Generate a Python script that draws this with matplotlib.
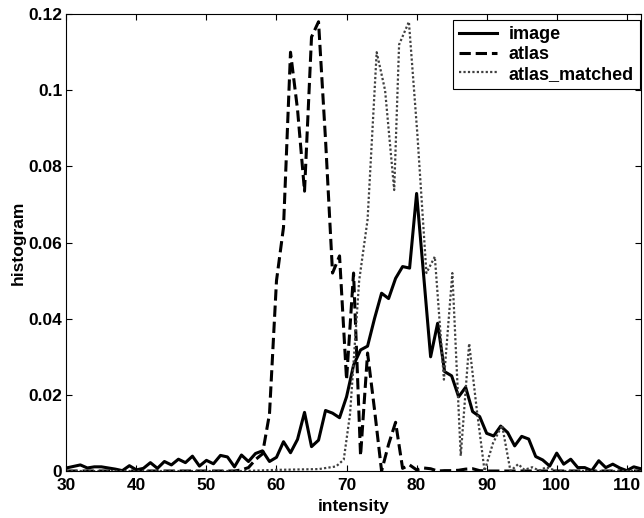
import numpy as np
import matplotlib
matplotlib.use("Agg")
import matplotlib.pyplot as plt

# intensity bins for image / atlas histograms
intensity = np.arange(30, 113)

image = [
    0.0008, 0.0012, 0.0016, 0.0008, 0.0011, 0.0011, 0.0008, 0.0005, 0.0001, 0.0014,  # 30-39
    0.0003, 0.0007, 0.0022, 0.0007, 0.0025, 0.0016, 0.0031, 0.0022, 0.0039, 0.0013,  # 40-49
    0.0028, 0.0019, 0.0041, 0.0037, 0.0011, 0.0042, 0.0025, 0.0046, 0.0053, 0.0025,  # 50-59
    0.0036, 0.0077, 0.0048, 0.0083, 0.0154, 0.0064, 0.0081, 0.0159, 0.0152, 0.0140,  # 60-69
    0.0195, 0.0278, 0.0318, 0.0328, 0.0401, 0.0467, 0.0453, 0.0506, 0.0537, 0.0533,  # 70-79
    0.0729, 0.0515, 0.0300, 0.0388, 0.0261, 0.0250, 0.0195, 0.0220, 0.0156, 0.0143,  # 80-89
    0.0099, 0.0092, 0.0118, 0.0101, 0.0066, 0.0091, 0.0084, 0.0038, 0.0029, 0.0013,  # 90-99
    0.0047, 0.0018, 0.0031, 0.0009, 0.0009, 0.0001, 0.0027, 0.0009, 0.0018, 0.0008,  # 100-109
    0.0001, 0.0011, 0.0006,                                                          # 110-112
]

atlas = [
    0, 0, 0, 0, 0, 0, 0, 0, 0, 0,                                                    # 30-39
    0, 0, 0, 0, 0, 0, 0, 0, 0, 0,                                                    # 40-49
    0, 0, 0, 0, 0, 0.0003, 0.0009, 0.0030, 0.0045, 0.0150,                           # 50-59
    0.0500, 0.0640, 0.1100, 0.0950, 0.0735, 0.1140, 0.1180, 0.0870, 0.0520, 0.0565,  # 60-69
    0.0240, 0.0520, 0.0040, 0.0310, 0.0160, 0.0000, 0.0070, 0.0128, 0.0007, 0.0016,  # 70-79
    0.0003, 0.0008, 0.0006, 0.0000, 0.0001, 0.0001, 0.0002, 0.0005, 0.0006, 0.0001,  # 80-89
    0, 0, 0, 0, 0, 0, 0, 0, 0, 0,                                                    # 90-99
    0, 0, 0, 0, 0, 0, 0, 0, 0, 0,                                                    # 100-109
    0, 0, 0,                                                                         # 110-112
]

# matched atlas histogram sits on a stretched grid
matched_x = [30, 55, 60, 66, 68.5, 69.6, 70.5, 71.8, 73.0, 74.3, 75.5, 76.8, 77.5,
             78.9, 80.1, 81.4, 82.6, 83.9, 85.1, 86.3, 87.5, 88.6, 89.7, 90.9,
             92.2, 93.4, 94.5, 95.4, 96.5, 97.5, 98.5, 100, 112]
matched_y = [0, 0, 0.0003, 0.0005, 0.0012, 0.0030, 0.0150, 0.0500, 0.0660, 0.1100,
             0.1000, 0.0738, 0.1120, 0.1180, 0.0887, 0.0520, 0.0563, 0.0240, 0.0520,
             0.0040, 0.0335, 0.0160, 0.0000, 0.0073, 0.0120, 0.0000, 0.0018, 0.0003,
             0.0010, 0.0001, 0.0010, 0, 0]

xticks = [30, 40, 50, 60, 70, 80, 90, 100, 110]
yticks = [0, 0.02, 0.04, 0.06, 0.08, 0.1, 0.12]
ytick_labels = ["0", "0.02", "0.04", "0.06", "0.08", "0.1", "0.12"]

plt.rcParams["font.family"] = ["Liberation Sans", "DejaVu Sans"]
plt.rcParams["font.weight"] = "bold"
plt.rcParams["font.size"] = 12.5

fig = plt.figure(figsize=(6.44, 5.18), dpi=100)
ax = fig.add_axes([0.103, 0.0907, 0.892, 0.882])

ax.plot(intensity, image, color="black", lw=2.2, ls="-", label="image")
ax.plot(intensity, atlas, color="black", lw=2.2, ls="--", label="atlas")
ax.plot(matched_x, matched_y, color="0.25", lw=1.6, ls=(0, (1, 1)), label="atlas_matched")

ax.set_xlim(30, 112)
ax.set_ylim(0, 0.12)
ax.set_xticks(xticks)
ax.set_yticks(yticks)
ax.set_yticklabels(ytick_labels)
ax.tick_params(direction="in", top=True, right=True, length=4, width=0.8)
ax.tick_params(axis="x", pad=5)
ax.tick_params(axis="y", pad=3)
for s in ax.spines.values():
    s.set_linewidth(0.8)

ax.set_xlabel("intensity", fontweight="bold", labelpad=4)
ax.set_ylabel("histogram", fontweight="bold", labelpad=2)

leg = ax.legend(loc="upper right", bbox_to_anchor=(0.999, 0.987), borderaxespad=0,
                fontsize=13, fancybox=False, framealpha=1, edgecolor="black",
                handlelength=2.1, handletextpad=0.65, borderpad=0.35, labelspacing=0.15)
leg.get_frame().set_linewidth(0.8)

fig.savefig("out.png", dpi=100)
